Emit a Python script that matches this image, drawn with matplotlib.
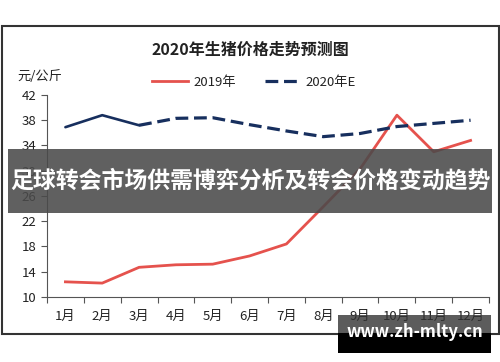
import matplotlib.pyplot as plt
import matplotlib.patches as mpatches
import numpy as np

plt.rcParams['font.family'] = ['Noto Sans CJK SC', 'DejaVu Sans']

months = ['1月', '2月', '3月', '4月', '5月', '6月', '7月', '8月', '9月', '10月', '11月', '12月']
price_2019 = [12.4, 12.2, 14.7, 15.1, 15.2, 16.5, 18.4, 24.3, 30.3, 38.8, 33.0, 34.8]
price_2020 = [36.9, 38.8, 37.2, 38.3, 38.4, 37.3, 36.3, 35.4, 35.9, 37.0, 37.5, 38.0]
yticks = [10, 14, 18, 22, 26, 30, 34, 38, 42]

red = '#e5524d'
navy = '#172f5e'

fig = plt.figure(figsize=(5, 3.62), dpi=100)
ax = fig.add_axes([0.094, 0.1796, 0.884, 0.558])

x = np.arange(len(months)) + 0.5
ax.plot(x, price_2019, color=red, lw=2.0, label='2019年')
# first three months are actual, the rest is a forecast
ax.plot(x[:3], price_2020[:3], color=navy, lw=1.9, solid_capstyle='round')
ax.plot(x[2:], price_2020[2:], color=navy, lw=2.3, ls=(0, (4, 1.8)), label='2020年E')

ax.set_xlim(0, 12)
ax.set_ylim(10, 42)
ax.set_yticks(yticks)
ax.set_xticks(np.arange(13))
ax.set_xticklabels([])
ax.set_xticks(x, minor=True)
ax.set_xticklabels(months, minor=True)
ax.tick_params(axis='x', which='minor', length=0, pad=9, labelsize=9.5, colors='#222222')
ax.tick_params(axis='x', which='major', length=4, color='#555555')
ax.tick_params(axis='y', length=4, labelsize=9.5, colors='#222222', color='#555555')
for s in ['top', 'right']:
    ax.spines[s].set_visible(False)
for s in ['left', 'bottom']:
    ax.spines[s].set_color('#555555')

fig.text(0.5, 0.862, '2020年生猪价格走势预测图', ha='center', va='center',
         fontsize=11.5, fontweight='bold', color='#222222')
fig.text(0.034, 0.79, '元/公斤', ha='left', va='center', fontsize=9.5, color='#222222')

leg = fig.legend(loc='center', bbox_to_anchor=(0.508, 0.773), ncol=2, frameon=False,
                 fontsize=9.5, handlelength=2.7, columnspacing=2.2, handletextpad=0.4)
for t in leg.get_texts():
    t.set_color('#222222')

# outer chart frame
fig.patches.append(mpatches.Rectangle((0.003, 0.078), 0.994, 0.85, transform=fig.transFigure,
                                      fill=False, ec='#333333', lw=1.5))

# overlay banner
fig.patches.append(mpatches.Rectangle((0.016, 0.412), 0.968, 0.177, transform=fig.transFigure,
                                      fc='#4a4a4a', alpha=0.88, zorder=5))
fig.text(0.5, 0.5, '足球转会市场供需博弈分析及转会价格变动趋势', ha='center', va='center',
         fontsize=16.5, fontweight='bold', color='white', zorder=6)

# site mark at bottom right
fig.patches.append(mpatches.Rectangle((0.676, 0.08), 0.306, 0.05, transform=fig.transFigure,
                                      fc='#333333', alpha=0.8, zorder=5))
fig.patches.append(mpatches.Rectangle((0.676, 0.025), 0.306, 0.055, transform=fig.transFigure,
                                      fc='black', zorder=5))
fig.text(0.829, 0.082, 'www.zh-mlty.cn', ha='center', va='center',
         fontsize=12, fontweight='bold', color='white', zorder=6)

fig.savefig('out.png', dpi=100)
